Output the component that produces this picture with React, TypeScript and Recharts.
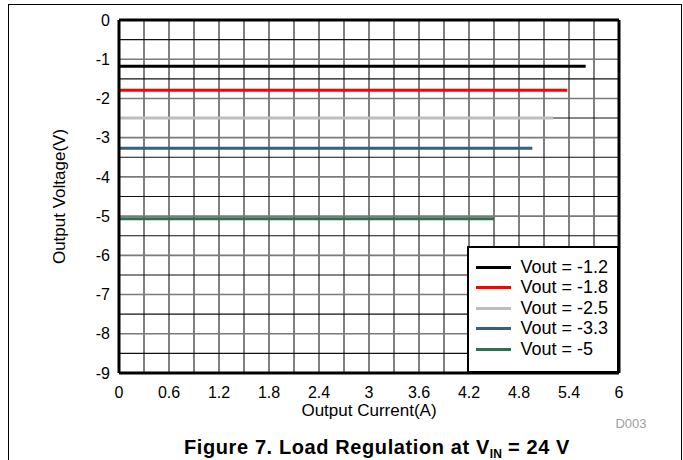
import React from 'react';
import { LineChart, Line, XAxis, YAxis, ReferenceLine, Legend } from 'recharts';

const seriesNames = ['Vout = -1.2', 'Vout = -1.8', 'Vout = -2.5', 'Vout = -3.3', 'Vout = -5'];
const seriesColors = ['#000000', '#ff0000', '#bdbdbd', '#35627a', '#2f6e4f'];
const currentStart = [0, 0, 0, 0, 0];
const currentEnd = [5.6, 5.38, 5.21, 4.96, 4.5];
const voltageStart = [-1.18, -1.79, -2.5, -3.27, -5.07];
const voltageEnd = [-1.18, -1.79, -2.5, -3.27, -5.07];

const xTicks = [0, 0.6, 1.2, 1.8, 2.4, 3, 3.6, 4.2, 4.8, 5.4, 6];
const yTicks = [0, -1, -2, -3, -4, -5, -6, -7, -8, -9];
const xGrid = [0.3, 0.6, 0.9, 1.2, 1.5, 1.8, 2.1, 2.4, 2.7, 3, 3.3, 3.6, 3.9, 4.2, 4.5, 4.8, 5.1, 5.4, 5.7];
const yGrid = [-0.5, -1, -1.5, -2, -2.5, -3, -3.5, -4, -4.5, -5, -5.5, -6, -6.5, -7, -7.5, -8, -8.5];

const FONT = 'Arial, "Liberation Sans", sans-serif';

const seriesData = seriesNames.map((name, i) => ({
  name,
  color: seriesColors[i],
  points: [
    { x: currentStart[i], y: voltageStart[i] },
    { x: currentEnd[i], y: voltageEnd[i] },
  ],
}));

const renderLegend = () => (
  <div
    style={{
      boxSizing: 'border-box',
      width: 152,
      height: 127,
      border: '2.5px solid #000',
      background: '#fff',
      paddingTop: 9,
      paddingLeft: 6.5,
      fontFamily: FONT,
      fontSize: 18,
      color: '#000',
    }}
  >
    {seriesNames.map((n, i) => (
      <div key={n} style={{ display: 'flex', alignItems: 'center', height: 20.5, whiteSpace: 'nowrap' }}>
        <span style={{ display: 'inline-block', width: 35, height: 3, background: seriesColors[i], marginRight: 10 }} />
        <span>{n}</span>
      </div>
    ))}
  </div>
);

export default function App() {
  return (
    <div
      style={{
        position: 'fixed',
        left: 0,
        top: 0,
        width: 683,
        height: 460,
        overflow: 'hidden',
        background: '#fff',
        fontFamily: FONT,
      }}
    >
      <div
        style={{
          position: 'absolute',
          left: 8,
          top: 4,
          width: 674,
          height: 600,
          boxSizing: 'border-box',
          border: '1.5px solid #000',
        }}
      />
      <div style={{ position: 'absolute', left: 0, top: 0 }}>
        <LineChart width={683} height={460} margin={{ top: 20, right: 64, left: 59, bottom: 55 }}>
          <XAxis
            type="number"
            dataKey="x"
            domain={[0, 6]}
            ticks={xTicks}
            allowDataOverflow
            tickLine={false}
            tickSize={0}
            tickMargin={14}
            axisLine={false}
            height={32}
            tick={{ fill: '#000', fontSize: 16, fontFamily: FONT }}
            label={{ value: 'Output Current(A)', position: 'bottom', offset: -1, fill: '#000', fontSize: 17, fontFamily: FONT }}
          />
          <YAxis
            type="number"
            dataKey="y"
            domain={[-9, 0]}
            ticks={yTicks}
            allowDataOverflow
            tickLine={false}
            tickSize={0}
            tickMargin={9}
            axisLine={false}
            width={60}
            tick={{ fill: '#000', fontSize: 16, fontFamily: FONT }}
            label={{
              value: 'Output Voltage(V)',
              angle: -90,
              position: 'insideLeft',
              offset: 0,
              fill: '#000',
              fontSize: 17,
              fontFamily: FONT,
              style: { textAnchor: 'middle' },
            }}
          />
          {xGrid.map((v) => (
            <ReferenceLine key={'vx' + v} x={v} stroke="#3c3c3c" strokeWidth={1.3} />
          ))}
          {yGrid.map((v) => (
            <ReferenceLine
              key={'hy' + v}
              y={v}
              stroke={Number.isInteger(v) ? '#7a7a7a' : '#111'}
              strokeWidth={Number.isInteger(v) ? 1.6 : 1.1}
            />
          ))}
          {seriesData.map((s) => (
            <Line
              key={s.name}
              data={s.points}
              dataKey="y"
              name={s.name}
              type="linear"
              stroke={s.color}
              strokeWidth={3}
              dot={false}
              activeDot={false}
              isAnimationActive={false}
            />
          ))}
          <ReferenceLine x={0} stroke="#000" strokeWidth={3} />
          <ReferenceLine x={6} stroke="#000" strokeWidth={3} />
          <ReferenceLine y={0} stroke="#000" strokeWidth={3} />
          <ReferenceLine y={-9} stroke="#000" strokeWidth={3} />
          <Legend
            layout="vertical"
            align="center"
            verticalAlign="middle"
            content={renderLegend}
            wrapperStyle={{ position: 'absolute', left: 467, top: 246, width: 152, height: 127, right: 'auto', bottom: 'auto' }}
          />
        </LineChart>
      </div>
      <div
        style={{
          position: 'absolute',
          left: 600,
          top: 417,
          width: 62,
          textAlign: 'center',
          fontSize: 13,
          lineHeight: '13px',
          color: '#a0a0a0',
        }}
      >
        D003
      </div>
      <div
        style={{
          position: 'absolute',
          left: 77,
          width: 600,
          top: 438,
          textAlign: 'center',
          fontSize: 20,
          lineHeight: '19px',
          letterSpacing: 0.6,
          fontWeight: 'bold',
          color: '#000',
          whiteSpace: 'nowrap',
        }}
      >
        Figure 7. Load Regulation at V
        <span style={{ fontSize: 12, position: 'relative', top: 4, letterSpacing: 0 }}>IN</span> = 24 V
      </div>
    </div>
  );
}
